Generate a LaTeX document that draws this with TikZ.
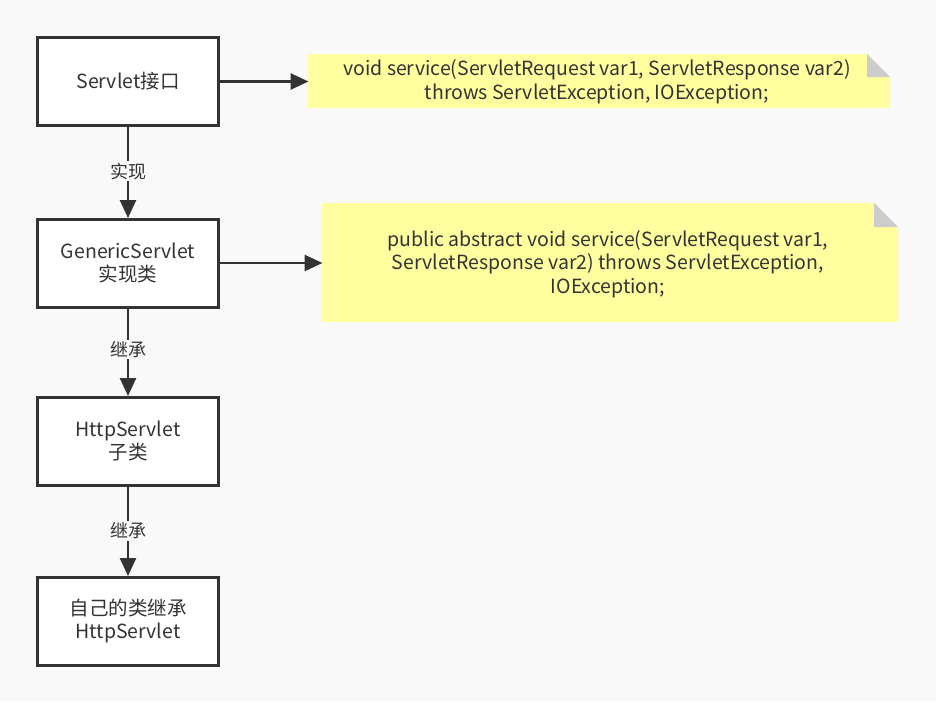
\documentclass[tikz,border=0pt]{standalone}
\usepackage{fontspec}
\setmainfont{Noto Sans CJK SC}
\usetikzlibrary{arrows.meta}
\definecolor{bg}{HTML}{F9F9F9}
\definecolor{ln}{HTML}{333333}
\definecolor{notey}{HTML}{FFFF9F}
\definecolor{fold}{HTML}{CCCCCC}
\begin{document}
\begin{tikzpicture}[x=1pt,y=-1pt,
  box/.style={draw=ln,line width=3pt,fill=white,minimum width=181pt,minimum height=88pt,align=center,font=\fontsize{19.5}{23}\selectfont,text=ln,inner sep=0pt},
  conn/.style={draw=ln,line width=2.7pt,-{Triangle[length=18pt,width=16pt]},shorten >=-0.5pt},
  lbl/.style={fill=bg,font=\fontsize{18}{20}\selectfont,text=ln,inner sep=1.5pt},
  notetext/.style={font=\fontsize{19.5}{23.5}\selectfont,text=ln,align=center,inner sep=0pt}]
\fill[bg] (0,0) rectangle (936,702);
\useasboundingbox (0,0) rectangle (936,702);
% notes
\fill[notey] (308,54) -- (867,54) -- (890,77) -- (890,108) -- (308,108) -- cycle;
\fill[fold] (867,54) -- (867,77) -- (890,77) -- cycle;
\node[notetext] (t1) at (597,82) {void service(ServletRequest var1, ServletResponse var2)\\throws ServletException, IOException;};
\fill[notey] (322,203) -- (874,203) -- (898,227) -- (898,322) -- (322,322) -- cycle;
\fill[fold] (874,203) -- (874,227) -- (898,227) -- cycle;
\node[notetext] (t2) at (608,264) {public abstract void service(ServletRequest var1,\\ServletResponse var2) throws ServletException,\\IOException;};
% boxes
\node[box] (b1) at (128,81.5) {Servlet接口};
\node[box] (b2) at (128,263) {GenericServlet\\实现类};
\node[box] (b3) at (128,441) {HttpServlet\\子类};
\node[box] (b4) at (128,621) {自己的类继承\\HttpServlet};
\coordinate (n1) at (308,81.5);
\coordinate (n2) at (322,263);
% connectors
\draw[conn] (b1.east) -- (n1);
\draw[conn] (b2.east) -- (n2);
\draw[conn] (b1) -- node[lbl,pos=0.49] {实现} (b2);
\draw[conn] (b2) -- node[lbl,pos=0.47] {继承} (b3);
\draw[conn] (b3) -- node[lbl,pos=0.5] {继承} (b4);
\end{tikzpicture}
\end{document}
